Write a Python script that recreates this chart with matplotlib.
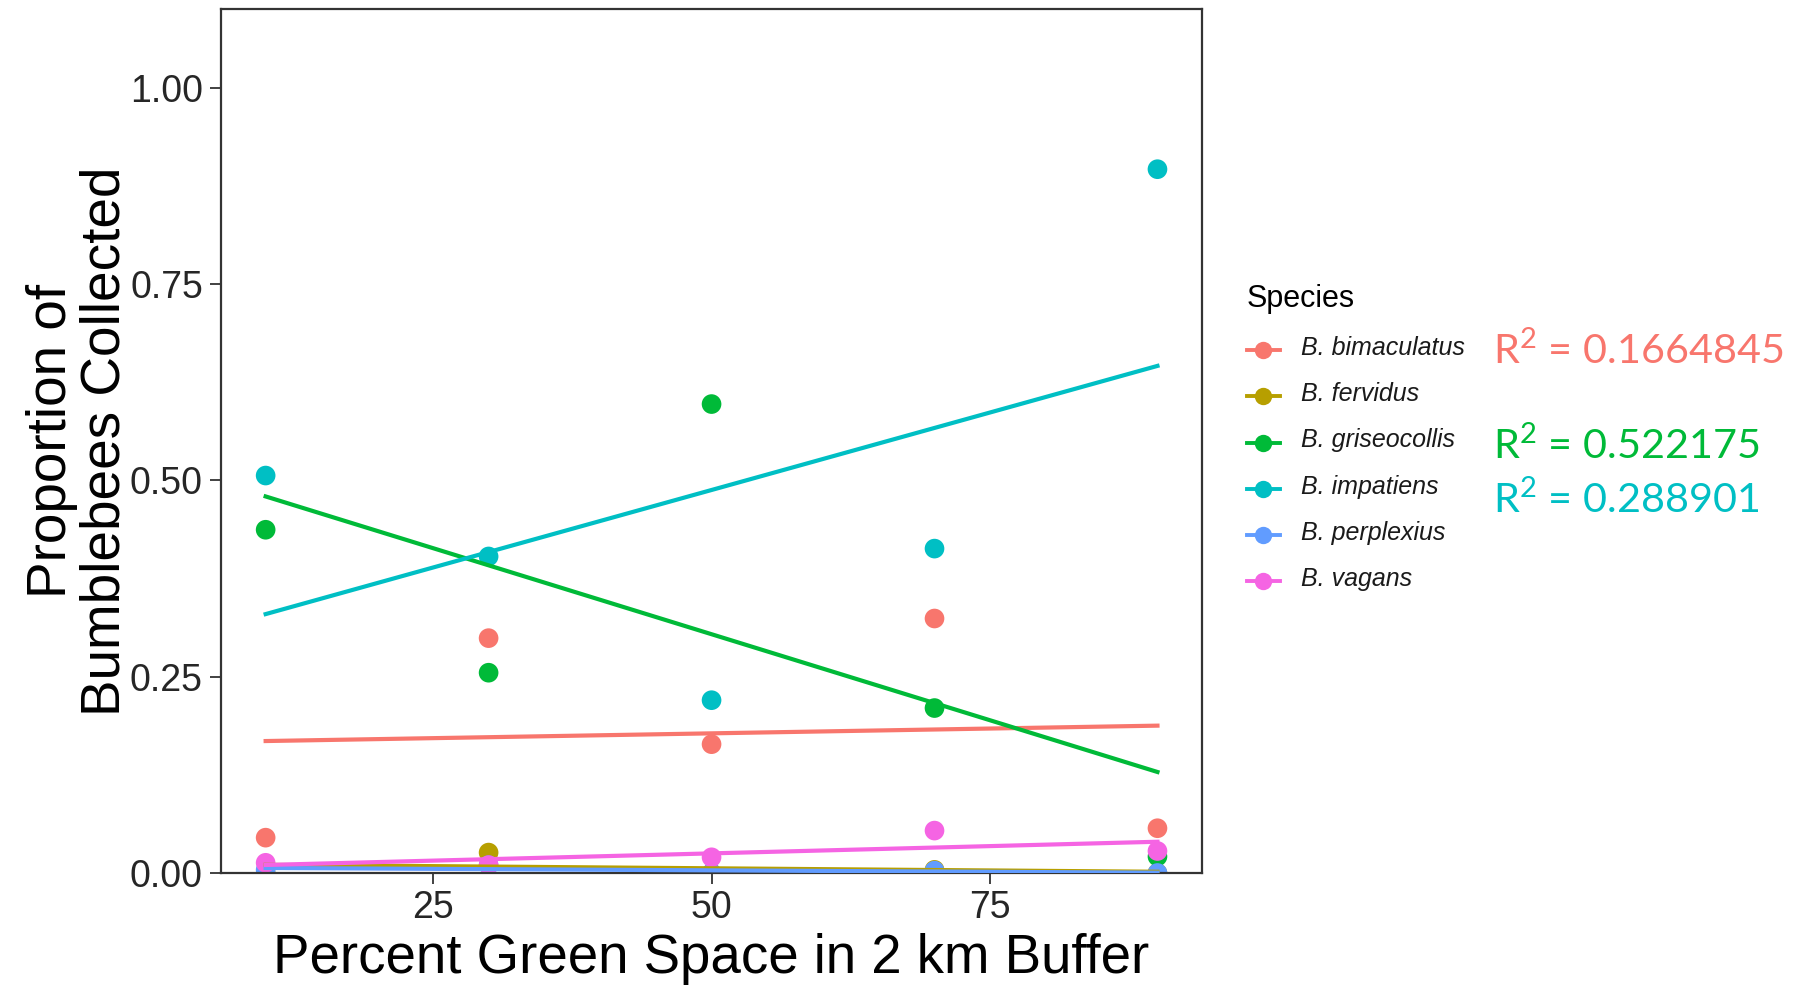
import numpy as np
import matplotlib.pyplot as plt
from matplotlib.lines import Line2D

plt.rcParams['font.family'] = ['Liberation Sans', 'DejaVu Sans']
plt.rcParams['mathtext.fontset'] = 'custom'
plt.rcParams['mathtext.rm'] = 'Lato'

# percent green space (x) and proportion of each species collected
green_space = [10, 30, 50, 70, 90]
species = ['B. bimaculatus', 'B. fervidus', 'B. griseocollis',
           'B. impatiens', 'B. perplexius', 'B. vagans']
bimaculatus = [0.045, 0.299, 0.164, 0.324, 0.057]
fervidus = [0.0, 0.026, 0.0, 0.004, 0.0]
griseocollis = [0.437, 0.255, 0.597, 0.210, 0.021]
impatiens = [0.506, 0.403, 0.220, 0.413, 0.896]
perplexius = [0.004, 0.010, 0.0, 0.003, 0.0]
vagans = [0.013, 0.010, 0.020, 0.054, 0.028]
colors = ['#F8766D', '#B79F00', '#00BA38', '#00BFC4', '#619CFF', '#F564E3']

r2_labels = ['0.1664845', '0.522175', '0.288901']
r2_colors = ['#F8766D', '#00BA38', '#00BFC4']

series = [bimaculatus, fervidus, griseocollis, impatiens, perplexius, vagans]

fig = plt.figure(figsize=(18.03, 9.85), dpi=100)
ax = fig.add_axes([0.1226, 0.1137, 0.5441, 0.8772])

x = np.array(green_space, dtype=float)
xs = np.linspace(x.min(), x.max(), 80)
for vals, col in zip(series, colors):
    ax.scatter(x, vals, s=200, color=col, edgecolors='none', zorder=2)
    # linear fit like geom_smooth(method = "lm"), values below the axis dropped
    slope, icpt = np.polyfit(x, vals, 1)
    ys = slope * xs + icpt
    ys = np.where(ys < 0, np.nan, ys)
    ax.plot(xs, ys, color=col, lw=3, zorder=3)

ax.set_xlim(6, 94)
ax.set_ylim(0, 1.1)
ax.set_xticks([25, 50, 75])
ax.set_yticks([0, 0.25, 0.5, 0.75, 1.0])
ax.set_yticklabels(['0.00', '0.25', '0.50', '0.75', '1.00'])
ax.tick_params(axis='both', labelsize=27, labelcolor='#262626', color='#333333',
               length=8, width=1.3)
ax.tick_params(axis='y', pad=5)
ax.tick_params(axis='x', pad=4)
for sp in ax.spines.values():
    sp.set_color('#333333')
    sp.set_linewidth(1.6)

ax.set_xlabel('Percent Green Space in 2 km Buffer', fontsize=39.3, labelpad=5)
ax.set_ylabel('Proportion of\nBumblebees Collected', fontsize=39.5, linespacing=1.05)
ax.yaxis.set_label_coords(-0.091, 0.5)

handles = [Line2D([0], [0], color=c, lw=2.8, marker='o', markersize=12.5,
                  markeredgewidth=0) for c in colors]
leg = ax.legend(handles, species, loc='upper left', bbox_to_anchor=(0.6916, 0.7115),
                bbox_transform=fig.transFigure, frameon=False, title='Species',
                title_fontsize=22, alignment='left', borderpad=0, borderaxespad=0,
                labelspacing=1.59, handlelength=2.35, handletextpad=1.55)
for t in leg.get_texts():
    t.set_fontsize(18)
    t.set_fontstyle('italic')
    t.set_color('#1a1a1a')

r2_y = [0.6300, 0.5340, 0.4792]
for lab, col, yy in zip(r2_labels, r2_colors, r2_y):
    fig.text(0.8283, yy, r'R$^{\mathrm{2}}$ = ' + lab, color=col, fontsize=29.8,
             family='Lato', va='baseline', ha='left')

fig.savefig('out.png', dpi=100)
